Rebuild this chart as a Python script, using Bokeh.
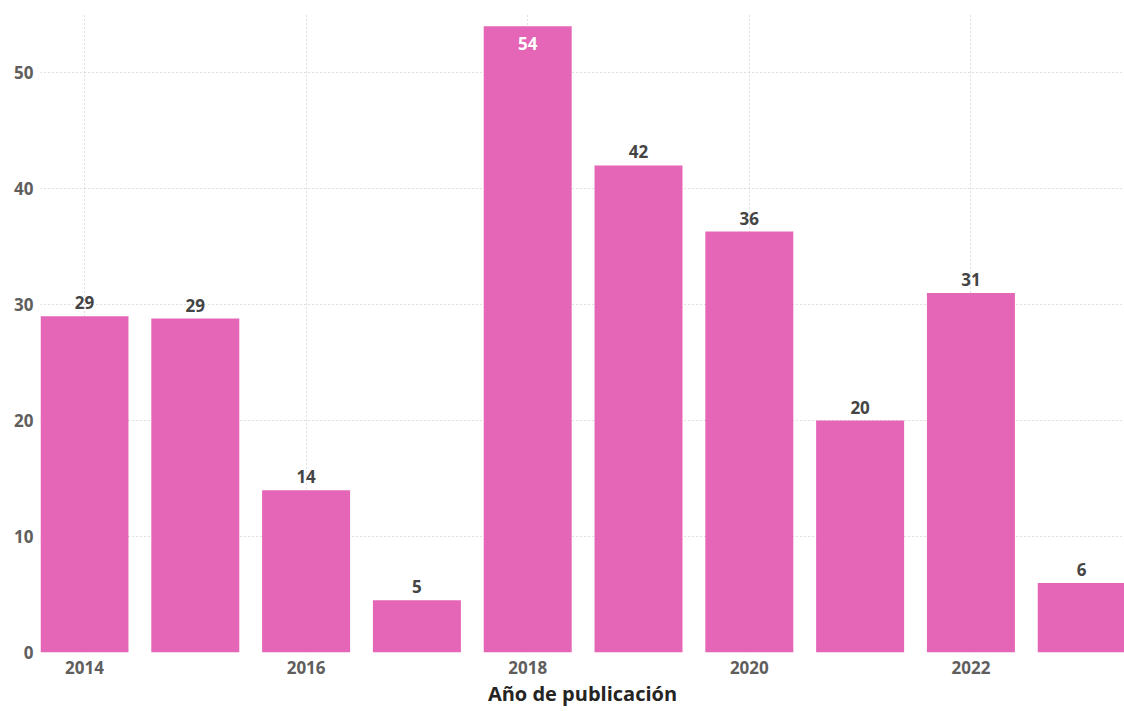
from bokeh.plotting import figure
from bokeh.models import ColumnDataSource, FixedTicker, Range1d
from bokeh.embed import file_html
from bokeh.resources import INLINE
from bokeh.core.properties import value

years = [2014, 2015, 2016, 2017, 2018, 2019, 2020, 2021, 2022, 2023]
values = [29.0, 28.8, 14.0, 4.5, 54.0, 42.0, 36.3, 20.0, 31.0, 6.0]
x_ticks = [2014, 2016, 2018, 2020, 2022]
y_ticks = [0, 10, 20, 30, 40, 50]
x_title = "Año de publicación"

BAR = "#E566B7"
FONT = "Open Sans"
Y_MAX = 55.1

p = figure(output_backend="svg", toolbar_location=None,
           frame_width=1084, frame_height=639,
           x_range=Range1d(2013.603, 2023.386), y_range=Range1d(0, Y_MAX),
           min_border_left=40, min_border_right=0, min_border_top=13,
           min_border_bottom=0)
p.outline_line_color = None
p.background_fill_color = "white"

src = ColumnDataSource(dict(x=years, top=values))
p.vbar(x="x", top="top", width=0.794, bottom=0, source=src,
       fill_color=BAR, line_color=None)

out_x, out_y, out_t = [], [], []
in_x, in_y, in_t = [], [], []
for x, v in zip(years, values):
    lab = str(int(v + 0.5))
    if v > Y_MAX - 2.5:
        in_x.append(x); in_y.append(v); in_t.append(lab)
    else:
        out_x.append(x); out_y.append(v); out_t.append(lab)

p.text(x=out_x, y=out_y, text=out_t, text_align="center", text_baseline="bottom",
       y_offset=-7, text_font=value(FONT), text_font_style="bold",
       text_font_size="17px", text_color="#444444")
p.text(x=in_x, y=in_y, text=in_t, text_align="center", text_baseline="top",
       y_offset=11, text_font=value(FONT), text_font_style="bold",
       text_font_size="17px", text_color="#FFFFFF")

for ax in (p.xaxis[0], p.yaxis[0]):
    ax.axis_line_color = None
    ax.major_tick_line_color = None
    ax.minor_tick_line_color = None
    ax.major_tick_out = 0
    ax.major_tick_in = 0
    ax.minor_tick_out = 0
    ax.major_label_text_font = FONT
    ax.major_label_text_font_style = "bold"
    ax.major_label_text_font_size = "17px"
    ax.major_label_text_color = "#605E5C"

p.xaxis.ticker = FixedTicker(ticks=x_ticks)
p.yaxis.ticker = FixedTicker(ticks=y_ticks)
p.xaxis.major_label_standoff = 8
p.yaxis.major_label_standoff = 7
p.xaxis.axis_label = x_title
p.xaxis.axis_label_text_font = FONT
p.xaxis.axis_label_text_font_style = "bold"
p.xaxis.axis_label_text_font_size = "20px"
p.xaxis.axis_label_text_color = "#252423"
p.xaxis.axis_label_standoff = 3

for g in (p.xgrid[0], p.ygrid[0]):
    g.grid_line_color = "#C2C0BE"
    g.grid_line_dash = "1 3"
    g.grid_line_width = 1

open("out.html", "w").write(file_html(p, INLINE))
